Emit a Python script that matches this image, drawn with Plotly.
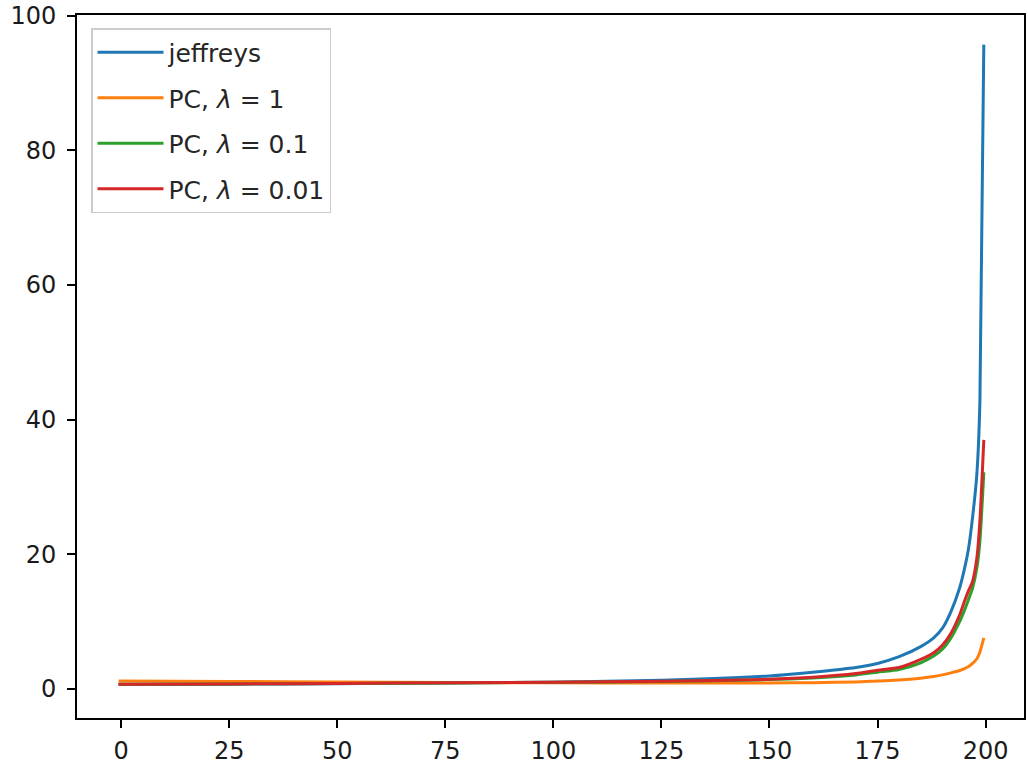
import plotly.graph_objects as go

x_vals = [-0.6, 25, 50, 75, 100, 125, 150, 160, 170, 175, 180, 185, 188, 190,
          192, 194, 195, 196, 197, 198, 198.7, 199.6]

jeffreys = [0.68, 0.72, 0.80, 0.90, 1.02, 1.30, 1.95, 2.5, 3.2, 3.8, 4.8, 6.3, 7.6, 9.0,
            11.5, 15.0, 17.5, 20.6, 25.5, 32.0, 42.8, 95.7]
pc_lam_1 = [1.20, 1.12, 1.05, 0.98, 0.93, 0.90, 0.90, 0.95, 1.05, 1.20, 1.33, 1.6, 1.85, 2.1,
            2.4, 2.75, 3.0, 3.3, 3.8, 4.5, 5.5, 7.6]
pc_lam_01 = [0.72, 0.76, 0.83, 0.91, 1.00, 1.13, 1.40, 1.65, 2.1, 2.5, 2.9, 3.9, 4.9, 5.9,
             7.6, 10.0, 11.5, 13.2, 15.0, 18.0, 22.0, 32.2]
pc_lam_001 = [0.72, 0.76, 0.84, 0.92, 1.00, 1.15, 1.45, 1.75, 2.3, 2.8, 3.2, 4.4, 5.4, 6.5,
              8.3, 11.0, 12.8, 14.5, 16.0, 19.5, 25.0, 37.0]

series_names = ["jeffreys", "PC, <i>λ</i> = 1", "PC, <i>λ</i> = 0.1", "PC, <i>λ</i> = 0.01"]
series_values = [jeffreys, pc_lam_1, pc_lam_01, pc_lam_001]
series_colors = ["#1f77b4", "#ff7f0e", "#2ca02c", "#d62728"]

x_ticks = [0, 25, 50, 75, 100, 125, 150, 175, 200]
y_ticks = [0, 20, 40, 60, 80, 100]

fig = go.Figure()
for i, (name, vals, col) in enumerate(zip(series_names, series_values, series_colors)):
    fig.add_trace(go.Scatter(x=x_vals, y=vals, mode="lines", name=name,
                             legendgroup=f"g{i}",
                             line=dict(color=col, width=3, shape="spline", smoothing=0.6)))

font_family = "DejaVu Sans"
axis_common = dict(showgrid=False, zeroline=False, showline=True, mirror=True,
                   linecolor="black", linewidth=1.6, ticks="outside", ticklen=8,
                   tickwidth=1.6, tickcolor="black",
                   tickfont=dict(family=font_family, size=24, color="#1a1a1a"))

fig.update_layout(
    width=1028, height=768,
    margin=dict(l=77, r=2, t=14, b=50),
    paper_bgcolor="white", plot_bgcolor="white",
    font=dict(family=font_family, size=24, color="black"),
    xaxis=dict(range=[-10.23, 208.9], tickvals=x_ticks, ticklabelstandoff=2, **axis_common),
    yaxis=dict(range=[-4.3, 100.1], tickvals=y_ticks, ticklabelstandoff=6, **axis_common),
    legend=dict(x=0.0148, y=0.9815, xanchor="left", yanchor="top",
                bgcolor="rgba(255,255,255,0.8)", bordercolor="#cccccc", borderwidth=1.5,
                font=dict(family=font_family, size=25, color="#262626"),
                traceorder="grouped", tracegroupgap=10, itemwidth=66),
    showlegend=True,
)

fig.write_html("out.html")
